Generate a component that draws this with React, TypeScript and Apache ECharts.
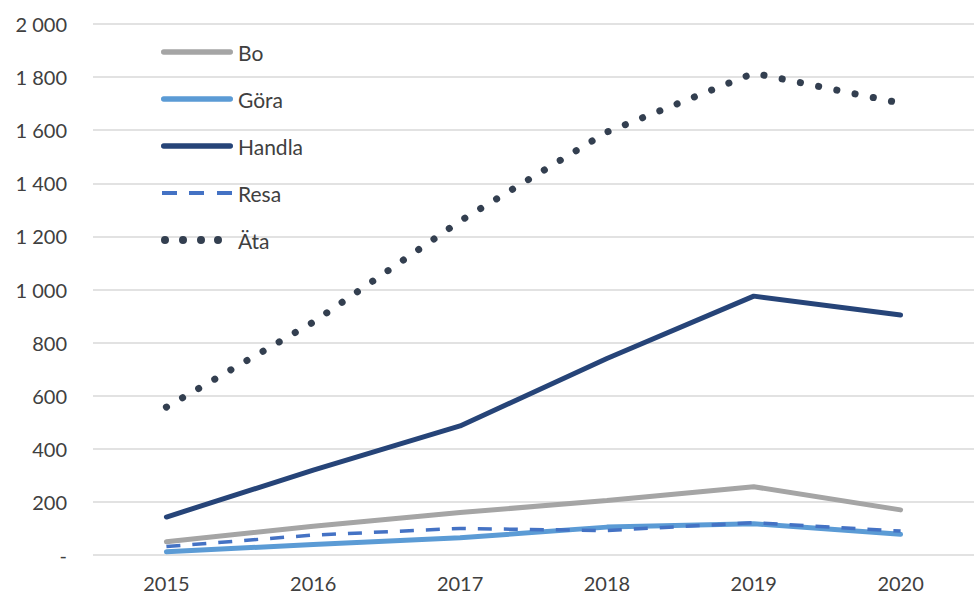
import React, { useEffect, useRef } from "react";
import * as echarts from "echarts";

const years = ["2015", "2016", "2017", "2018", "2019", "2020"];
const bo = [50, 108, 160, 205, 257, 170];
const gora = [12, 40, 65, 105, 118, 78];
const handla = [143, 320, 486, 740, 975, 904];
const resa = [32, 75, 100, 92, 122, 90];
const ata = [557, 877, 1258, 1593, 1815, 1702];

const fmt = (v: number) => {
  if (v === 0) return "-";
  const s = String(v);
  return s.length > 3 ? s.slice(0, s.length - 3) + " " + s.slice(-3) : s;
};

const ICON_SOLID =
  "path://M0 0M72 14M2.75 4.25H69.25A2.75 2.75 0 0 1 69.25 9.75H2.75A2.75 2.75 0 0 1 2.75 4.25Z";
const ICON_DASH =
  "path://M0 0M72 14M1 5H16V9H1ZM28 5H43V9H28ZM56 5H71V9H56Z";
const ICON_DOTS =
  "path://M0 0M72 14" +
  [4, 22, 40, 57]
    .map((c) => `M${c - 4} 7A4 4 0 1 0 ${c + 4} 7A4 4 0 1 0 ${c - 4} 7Z`)
    .join("");

export default function App() {
  const ref = useRef<HTMLDivElement>(null);
  useEffect(() => {
    if (!ref.current) return;
    const chart = echarts.init(ref.current, undefined, { renderer: "svg" });
    const font = "Lato";
    chart.setOption({
      animation: false,
      backgroundColor: "#ffffff",
      textStyle: { fontFamily: font },
      grid: { left: 93, top: 24, width: 900, bottom: 41 },
      legend: {
        orient: "vertical",
        left: 156,
        top: 35,
        itemWidth: 72,
        itemHeight: 14,
        itemGap: 23,
        itemStyle: { borderWidth: 0 },
        textStyle: { fontSize: 21, color: "#404040", lineHeight: 24, fontFamily: font },
        data: [
          { name: "Bo", icon: ICON_SOLID },
          { name: "Göra", icon: ICON_SOLID },
          { name: "Handla", icon: ICON_SOLID },
          { name: "Resa", icon: ICON_DASH },
          { name: "Äta", icon: ICON_DOTS },
        ],
      },
      xAxis: {
        type: "category",
        data: years,
        boundaryGap: true,
        axisLine: { show: false },
        axisTick: { show: false },
        axisLabel: { fontSize: 20, color: "#404040", margin: 18, fontFamily: font },
      },
      yAxis: {
        type: "value",
        min: 0,
        max: 2000,
        interval: 200,
        axisLine: { show: false },
        axisTick: { show: false },
        splitLine: { lineStyle: { color: "#D9D9D9", width: 1.5 } },
        axisLabel: {
          fontSize: 20,
          color: "#404040",
          margin: 26,
          fontFamily: font,
          formatter: fmt,
        },
      },
      series: [
        {
          name: "Bo",
          type: "line",
          data: bo,
          symbol: "none",
          color: "#A5A5A5",
          lineStyle: { color: "#A5A5A5", width: 5, cap: "round" },
        },
        {
          name: "Göra",
          type: "line",
          data: gora,
          symbol: "none",
          color: "#5B9BD5",
          lineStyle: { color: "#5B9BD5", width: 5, cap: "round" },
        },
        {
          name: "Handla",
          type: "line",
          data: handla,
          symbol: "none",
          color: "#264478",
          lineStyle: { color: "#264478", width: 5, cap: "round" },
        },
        {
          name: "Resa",
          type: "line",
          data: resa,
          symbol: "none",
          color: "#4472C4",
          lineStyle: { color: "#4472C4", width: 3.5, type: [14, 12] },
        },
        {
          name: "Äta",
          type: "line",
          data: ata,
          symbol: "none",
          color: "#333F50",
          lineStyle: { color: "#333F50", width: 7, type: [0.1, 18.5], cap: "round" },
        },
      ],
    });
    return () => chart.dispose();
  }, []);
  return <div ref={ref} style={{ width: 974, height: 596, position: "absolute", left: 0, top: 0 }} />;
}
